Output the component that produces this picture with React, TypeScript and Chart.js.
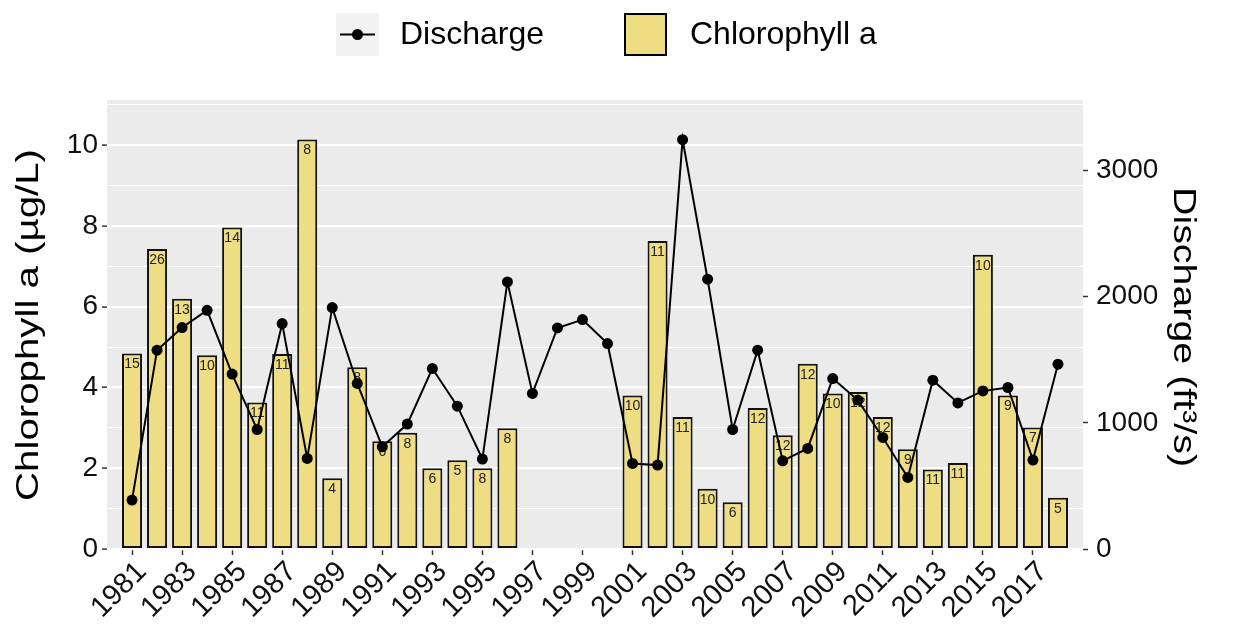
import React, { useEffect, useRef } from 'react';
import { Chart, registerables } from 'chart.js';

Chart.register(...registerables);

// ---- data ----
const years = ['1981','1982','1983','1984','1985','1986','1987','1988','1989','1990','1991','1992','1993','1994','1995','1996','1997','1998','1999','2000','2001','2002','2003','2004','2005','2006','2007','2008','2009','2010','2011','2012','2013','2014','2015','2016','2017','2018'];
const chlorophyll: (number | null)[] = [4.84, 7.43, 6.2, 4.8, 7.96, 3.63, 4.83, 10.14, 1.75, 4.5, 2.67, 2.88, 2.0, 2.2, 2.0, 2.99, null, null, null, null, 3.8, 7.63, 3.27, 1.49, 1.16, 3.49, 2.82, 4.59, 3.85, 3.89, 3.27, 2.47, 1.97, 2.13, 7.29, 3.8, 3.01, 1.27];
const sampleCounts: (number | null)[] = [15, 26, 13, 10, 14, 11, 11, 8, 4, 8, 6, 8, 6, 5, 8, 8, null, null, null, null, 10, 11, 11, 10, 6, 12, 12, 12, 10, 12, 12, 9, 11, 11, 10, 9, 7, 5];
const discharge: number[] = [388, 1576, 1755, 1892, 1386, 947, 1787, 718, 1913, 1312, 810, 990, 1430, 1132, 713, 2117, 1233, 1752, 1818, 1628, 678, 665, 3244, 2138, 947, 1576, 699, 797, 1351, 1180, 884, 567, 1338, 1158, 1253, 1280, 705, 1465];
const xTickLabels = ['1981','1983','1985','1987','1989','1991','1993','1995','1997','1999','2001','2003','2005','2007','2009','2011','2013','2015','2017'];
const leftTicks = [0, 1, 2, 3, 4, 5, 6, 7, 8, 9, 10, 11];
const leftTickLabels = ['0', '', '2', '', '4', '', '6', '', '8', '', '10', ''];
const rightTicks = [0, 1000, 2000, 3000];
const leftTitle = 'Chlorophyll a (µg/L)';
const rightTitle = 'Discharge (ft³/s)';
const legendLine = 'Discharge';
const legendBar = 'Chlorophyll a';
const padStart = '1980';
const padEnd = '2019';

// ---- styling ----
const FONT = "'Liberation Sans', Arial, sans-serif";
const BAR_FILL = '#EEDD82';
const PANEL = '#EBEBEB';
const LEFT_MAX = 11.12;
const SCALE_FACTOR = 320; // discharge units per chlorophyll unit
const RIGHT_MAX = LEFT_MAX * SCALE_FACTOR;

const labels = [padStart, ...years, padEnd];
const barData = [null, ...chlorophyll, null];
const countData = [null, ...sampleCounts, null];
const lineData = [null, ...discharge, null];

const panelBg = {
  id: 'panelBg',
  beforeDraw(chart: any) {
    const { ctx, chartArea: a } = chart;
    ctx.save();
    ctx.fillStyle = PANEL;
    ctx.fillRect(a.left, a.top, a.right - a.left, a.bottom - a.top);
    ctx.restore();
  },
};

const barLabels = {
  id: 'barLabels',
  afterDatasetDraw(chart: any, args: any) {
    if (args.index !== 1) return;
    const { ctx } = chart;
    const meta = chart.getDatasetMeta(1);
    ctx.save();
    ctx.font = `14px ${FONT}`;
    ctx.fillStyle = '#222';
    ctx.textAlign = 'center';
    ctx.textBaseline = 'top';
    meta.data.forEach((el: any, i: number) => {
      const c = countData[i];
      if (c == null || barData[i] == null) return;
      ctx.fillText(String(c), el.x, el.y + 4);
    });
    ctx.restore();
  },
};

function drawStretchedTitle(ctx: any, text: string, x: number, y: number, rot: number, target: number) {
  ctx.save();
  ctx.font = `32px ${FONT}`;
  ctx.fillStyle = '#000';
  ctx.textAlign = 'center';
  ctx.textBaseline = 'alphabetic';
  const w = ctx.measureText(text).width;
  ctx.translate(x, y);
  ctx.rotate(rot);
  ctx.scale(target / w, 1);
  ctx.fillText(text, 0, 0);
  ctx.restore();
}

const customText = {
  id: 'customText',
  afterDraw(chart: any) {
    const { ctx } = chart;
    ctx.save();
    // Discharge key
    ctx.fillStyle = '#F2F2F2';
    ctx.fillRect(336, 13, 43, 43);
    ctx.strokeStyle = '#000';
    ctx.lineWidth = 2;
    ctx.beginPath();
    ctx.moveTo(340, 34.5);
    ctx.lineTo(375, 34.5);
    ctx.stroke();
    ctx.fillStyle = '#000';
    ctx.beginPath();
    ctx.arc(357.5, 34.5, 5.5, 0, Math.PI * 2);
    ctx.fill();
    ctx.font = `32px ${FONT}`;
    ctx.textAlign = 'left';
    ctx.textBaseline = 'middle';
    ctx.fillText(legendLine, 400, 35);
    // Chlorophyll key
    ctx.fillStyle = BAR_FILL;
    ctx.fillRect(625, 14, 41, 41);
    ctx.strokeStyle = '#000';
    ctx.lineWidth = 2;
    ctx.strokeRect(625, 14, 41, 41);
    ctx.fillStyle = '#000';
    ctx.fillText(legendBar, 690, 35);
    ctx.restore();
    // axis titles
    drawStretchedTitle(ctx, leftTitle, 38, 325, -Math.PI / 2, 352);
    drawStretchedTitle(ctx, rightTitle, 1174, 327, Math.PI / 2, 280);
  },
};

export default function App() {
  const ref = useRef<HTMLCanvasElement>(null);
  useEffect(() => {
    if (!ref.current) return;
    const chart = new Chart(ref.current, {
      type: 'bar',
      data: {
        labels,
        datasets: [
          {
            type: 'line',
            label: legendLine,
            data: lineData,
            yAxisID: 'y1',
            borderColor: '#000',
            backgroundColor: '#000',
            borderWidth: 2,
            pointRadius: 5.5,
            pointBackgroundColor: '#000',
            pointBorderWidth: 0,
            order: 0,
            spanGaps: false,
          } as any,
          {
            type: 'bar',
            label: legendBar,
            data: barData,
            yAxisID: 'y',
            backgroundColor: BAR_FILL,
            borderColor: '#111',
            borderWidth: 2,
            borderSkipped: false,
            barPercentage: 0.8,
            categoryPercentage: 1.0,
            order: 1,
          } as any,
        ],
      },
      options: {
        animation: false,
        responsive: false,
        maintainAspectRatio: false,
        layout: { padding: { top: 100, left: 0, right: 0, bottom: 0 } },
        plugins: { legend: { display: false }, tooltip: { enabled: false } },
        scales: {
          x: {
            type: 'category',
            offset: false,
            border: { display: false },
            grid: {
              offset: false,
              drawOnChartArea: false,
              drawTicks: true,
              tickLength: 6,
              tickWidth: 1.5,
              tickColor: (ctx: any) => {
                const lab = labels[ctx.index];
                return xTickLabels.includes(lab) ? '#333' : 'rgba(0,0,0,0)';
              },
            },
            ticks: {
              autoSkip: false,
              maxRotation: 45,
              minRotation: 45,
              padding: 0,
              labelOffset: 10,
              color: '#111',
              font: { family: FONT, size: 29 },
              callback: (_v: any, i: number) => (xTickLabels.includes(labels[i]) ? labels[i] : ''),
            },
            afterFit: (s: any) => { s.height = 84; },
          },
          y: {
            type: 'linear',
            position: 'left',
            min: 0,
            max: LEFT_MAX,
            border: { display: false },
            afterBuildTicks: (s: any) => { s.ticks = leftTicks.map((v) => ({ value: v })); },
            grid: {
              color: '#FFFFFF',
              lineWidth: (ctx: any) => (ctx.tick && ctx.tick.value % 2 === 0 ? 2.2 : 1.1),
              drawTicks: true,
              tickLength: 5,
              tickWidth: 1.5,
              tickColor: (ctx: any) => (ctx.tick && ctx.tick.value % 2 === 0 ? '#333' : 'rgba(0,0,0,0)'),
            },
            ticks: {
              padding: 4,
              color: '#111',
              font: { family: FONT, size: 28 },
              callback: (v: any) => leftTickLabels[leftTicks.indexOf(Number(v))] ?? '',
            },
            afterFit: (s: any) => { s.width = 107; },
          },
          y1: {
            type: 'linear',
            position: 'right',
            min: 0,
            max: RIGHT_MAX,
            border: { display: false },
            afterBuildTicks: (s: any) => { s.ticks = rightTicks.map((v) => ({ value: v })); },
            grid: {
              drawOnChartArea: false,
              drawTicks: true,
              tickLength: 5,
              tickWidth: 1.5,
              tickColor: '#333',
            },
            ticks: {
              padding: 8,
              color: '#111',
              font: { family: FONT, size: 28 },
              callback: (v: any) => String(v),
            },
            afterFit: (s: any) => { s.width = 153; },
          },
        },
      } as any,
      plugins: [panelBg, barLabels, customText],
    });
    return () => chart.destroy();
  }, []);

  return (
    <div style={{ position: 'fixed', left: 0, top: 0, width: 1236, height: 633, background: '#fff' }}>
      <canvas ref={ref} width={1236} height={633} style={{ width: 1236, height: 633 }} />
    </div>
  );
}
